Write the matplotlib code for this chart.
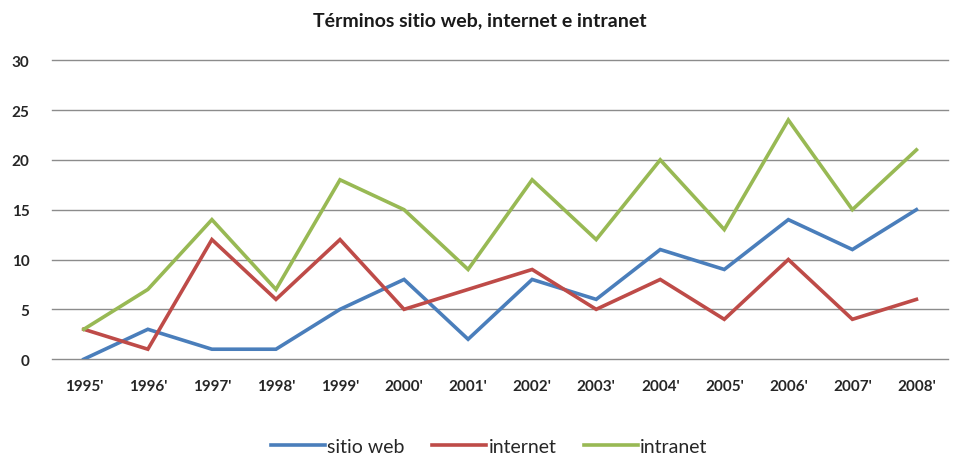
import matplotlib
matplotlib.use("Agg")
import matplotlib.pyplot as plt

years = ["1995'", "1996'", "1997'", "1998'", "1999'", "2000'", "2001'",
         "2002'", "2003'", "2004'", "2005'", "2006'", "2007'", "2008'"]
sitio_web = [0, 3, 1, 1, 5, 8, 2, 8, 6, 11, 9, 14, 11, 15]
internet = [3, 1, 12, 6, 12, 5, 7, 9, 5, 8, 4, 10, 4, 6]
intranet = [3, 7, 14, 7, 18, 15, 9, 18, 12, 20, 13, 24, 15, 21]

plt.rcParams['font.family'] = ['Lato', 'DejaVu Sans']

fig = plt.figure(figsize=(9.59, 4.6), dpi=100)
ax = fig.add_axes([0.054, 0.217, 0.935, 0.65])

x = list(range(len(years)))
ax.plot(x, sitio_web, color="#4A7EBB", lw=2.6, label="sitio web", solid_joinstyle='miter', zorder=3)
ax.plot(x, internet, color="#BE4B48", lw=2.6, label="internet", solid_joinstyle='miter', zorder=3)
ax.plot(x, intranet, color="#98B954", lw=2.6, label="intranet", solid_joinstyle='miter', zorder=3)

ax.set_xlim(-0.5, len(years) - 0.5)
ax.set_ylim(0, 30)
ax.set_yticks([0, 5, 10, 15, 20, 25, 30])
ax.set_xticks(x)
ax.set_xticklabels(years)
ax.yaxis.grid(True, color="#8C8C8C", lw=1.0)
for gl in ax.get_ygridlines():
    gl.set_clip_on(False)
ax.set_axisbelow(True)
for s in ax.spines.values():
    s.set_visible(False)
ax.tick_params(axis='both', length=0, labelsize=11, colors="#262626")
ax.tick_params(axis='y', pad=16)
ax.tick_params(axis='x', pad=14)
for lab in ax.get_xticklabels() + ax.get_yticklabels():
    lab.set_fontweight('bold')

fig.text(0.5, 0.955, "Términos sitio web, internet e intranet", ha='center', va='center',
         fontsize=14, fontweight='bold', color="#1a1a1a")

leg = fig.legend(loc='center', bbox_to_anchor=(0.51, 0.027), ncol=3, frameon=False,
                 fontsize=14, handlelength=2.8, handletextpad=0.1, columnspacing=1.4)
for t in leg.get_texts():
    t.set_color("#262626")

fig.savefig("out.png", dpi=100)
